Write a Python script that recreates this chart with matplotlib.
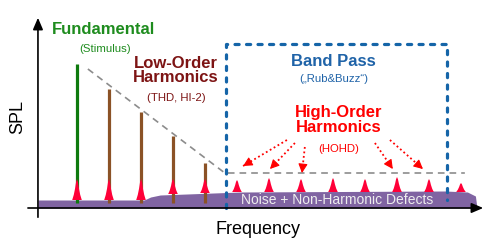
import numpy as np
import matplotlib
matplotlib.use("Agg")
import matplotlib.pyplot as plt

plt.rcParams['font.family'] = ['Liberation Sans', 'DejaVu Sans']

# harmonic number along the frequency axis, SPL in arbitrary units (0 = axis)
harmonics = np.arange(1, 14)
bar_levels = [144, 119, 96, 72, 45]          # fundamental + low order harmonics
spike_peaks = [29, 29, 29, 29, 29, 28, 30, 29, 30, 29, 31, 29, 25]
spike_bases = [8, 8, 8, 14, 15, 16, 16, 16, 16, 16, 16, 16, 16]

noise_f = [-0.22, 3.1, 3.3, 3.6, 6.1, 12.5, 13.2, 13.45, 13.5]
noise_level = [8, 8, 11, 13, 16, 17, 16, 12, 0]

trend_f = [1.34, 5.62, 13.12]
trend_level = [139, 35, 35]

box_f = [5.66, 5.66, 12.56, 12.56]
box_level = [0, 164, 164, 8]

# spike shape (offset in harmonic units, relative height)
spike_dx = [-0.15, -0.1, -0.06, -0.03, 0, 0.03, 0.06, 0.1, 0.15]
spike_rel = [0, 0.25, 0.55, 0.85, 1, 0.85, 0.55, 0.25, 0]

# dotted arrows: (start f, start level, end f, end level)
arrows = [(7.56, 68, 6.19, 42), (7.81, 65, 7.03, 39), (8.12, 61, 8.03, 35),
          (10.31, 65, 10.87, 39), (10.78, 68, 11.81, 39)]

fig = plt.figure(figsize=(4.86, 2.4), dpi=100)
ax = fig.add_axes([0, 0, 1, 1])
ax.set_xlim(1 - 77 / 32, 1 + 409 / 32)
ax.set_ylim(-32, 208)
ax.axis('off')

# noise floor
ax.fill_between(noise_f, 0, noise_level, color='#8064A2', lw=0, zorder=2)

# bars
colors = ['#0E7A0E'] + ['#8B5226'] * 4
for n, lev, c in zip(harmonics, bar_levels, colors):
    ax.plot([n, n], [5, lev], color=c, lw=2.3, solid_capstyle='butt', zorder=3)

# spikes
for n, base, peak in zip(harmonics, spike_bases, spike_peaks):
    xs = n + np.array(spike_dx)
    ys = base + (peak - base) * np.array(spike_rel)
    ax.fill(xs, ys, color='#FF0038', lw=0, zorder=4)

# trend line
ax.plot(trend_f, trend_level, color='#8C8C8C', lw=1.2, ls=(0, (4, 3)), zorder=3)

# band pass box
ax.plot(box_f, box_level, color='#1565A8', lw=2.3, dashes=(1.3, 2.3),
        dash_capstyle='round', zorder=5)

# axes arrows
ax.annotate('', xy=(-0.22, 193), xytext=(-0.22, -12),
            arrowprops=dict(arrowstyle='-|>,head_length=0.7,head_width=0.3', color='black', lw=1.2))
ax.annotate('', xy=(13.78, 0), xytext=(-0.62, 0),
            arrowprops=dict(arrowstyle='-|>,head_length=0.7,head_width=0.3', color='black', lw=1.2),
            zorder=6)

# red dotted arrows with solid heads
for x0, y0, x1, y1 in arrows:
    ax.plot([x0, x1], [y0, y1], color='#FF0000', lw=1.3, ls=(0, (1, 1.5)), zorder=5)
    xm = x1 - 0.15 * (x1 - x0)
    ym = y1 - 0.15 * (y1 - y0)
    ax.annotate('', xy=(x1, y1), xytext=(xm, ym),
                arrowprops=dict(arrowstyle='-|>,head_length=0.55,head_width=0.28',
                                color='#FF0000', lw=0.8, shrinkA=0, shrinkB=0), zorder=5)

# texts
ax.text(1.84, 178, 'Fundamental', color='#1E8C1E', fontsize=12, fontweight='bold',
        ha='center', va='center')
ax.text(1.87, 159, '(Stimulus)', color='#1E8C1E', fontsize=8.2, ha='center', va='center')
ax.text(4.09, 137.5, 'Low-Order\nHarmonics', color='#7D1414', fontsize=12,
        fontweight='bold', ha='center', va='center', linespacing=1.0)
ax.text(4.09, 110, '(THD, HI-2)', color='#7D1414', fontsize=8.2, ha='center', va='center')
ax.text(9.0, 146, 'Band Pass', color='#1F63A8', fontsize=12, fontweight='bold',
        ha='center', va='center')
ax.text(9.03, 129, '(\u201eRub&Buzz\u201c)', color='#1F63A8', fontsize=8.2,
        ha='center', va='center')
ax.text(9.19, 87.5, 'High-Order\nHarmonics', color='#FF0000', fontsize=12,
        fontweight='bold', ha='center', va='center', linespacing=1.0)
ax.text(9.19, 59, '(HOHD)', color='#FF0000', fontsize=8.2, ha='center', va='center')
ax.text(9.12, 7.5, 'Noise + Non-Harmonic Defects', color='#EEEEEE', fontsize=10,
        ha='center', va='center', zorder=6)
ax.text(6.66, -22, 'Frequency', color='black', fontsize=13, ha='center', va='center')
ax.text(-0.84, 91, 'SPL', color='black', fontsize=13, rotation=90,
        ha='center', va='center')

fig.savefig('out.png', dpi=100)
